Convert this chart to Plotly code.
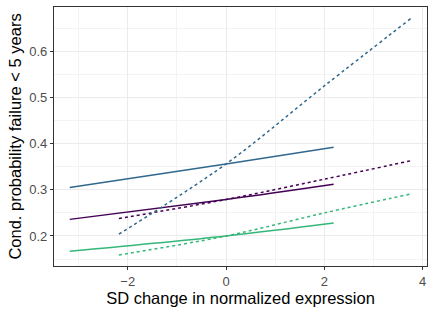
import plotly.graph_objects as go

# x positions of the model curves
solid_x = [-3.18, 0.0, 2.19]
dotted_x = [-2.18, 0.0, 2.0, 3.76]

# conditional probability values
purple_solid = [0.236, 0.279, 0.312]
blue_solid = [0.305, 0.356, 0.392]
green_solid = [0.167, 0.200, 0.228]

purple_dotted = [0.238, 0.279, 0.323, 0.363]
blue_dotted = [0.204, 0.356, 0.525, 0.671]
green_dotted = [0.159, 0.200, 0.250, 0.291]

colors = {"purple": "#440154", "blue": "#31688E", "green": "#35B779"}

fig = go.Figure()
for name, ys in [("purple", purple_solid), ("blue", blue_solid), ("green", green_solid)]:
    fig.add_trace(go.Scatter(x=solid_x, y=ys, mode="lines", line=dict(color=colors[name], width=1.5),
                             showlegend=False, line_shape="spline"))
for name, ys in [("purple", purple_dotted), ("blue", blue_dotted), ("green", green_dotted)]:
    fig.add_trace(go.Scatter(x=dotted_x, y=ys, mode="lines",
                             line=dict(color=colors[name], width=1.5, dash="dot"),
                             showlegend=False, line_shape="spline"))

axis_common = dict(
    showline=True, mirror=True, linecolor="#333333", linewidth=1.2,
    ticks="outside", ticklen=3, tickcolor="#333333", tickwidth=1,
    gridcolor="#EBEBEB", gridwidth=1.1, zeroline=False,
    tickfont=dict(family="Liberation Sans, Arial, sans-serif", size=13, color="#4D4D4D"),
    title_font=dict(family="Liberation Sans, Arial, sans-serif", size=16.5, color="#000000"),
)

fig.update_xaxes(range=[-3.50, 4.09], tickvals=[-2, 0, 2, 4], ticktext=["\u22122", "0", "2", "4"],
                 minor=dict(tickvals=[-3, -1, 1, 3], showgrid=True, gridcolor="#F3F3F3", gridwidth=0.6, ticks=""),
                 title_text="SD change in normalized expression", title_standoff=3, **axis_common)
fig.update_yaxes(range=[0.135, 0.696], tickvals=[0.2, 0.3, 0.4, 0.5, 0.6],
                 minor=dict(tickvals=[0.15, 0.25, 0.35, 0.45, 0.55, 0.65], showgrid=True,
                            gridcolor="#F3F3F3", gridwidth=0.6, ticks=""),
                 title_text="Cond. probability failure < 5 years", title_standoff=3, **axis_common)

fig.update_layout(
    width=436, height=315,
    margin=dict(l=54, r=9, t=7, b=49, autoexpand=False),
    plot_bgcolor="white", paper_bgcolor="white",
    showlegend=False,
)

fig.write_html("out.html", config={"displayModeBar": False},
               post_script="document.body.style.margin='0';document.body.style.overflow='hidden';")
